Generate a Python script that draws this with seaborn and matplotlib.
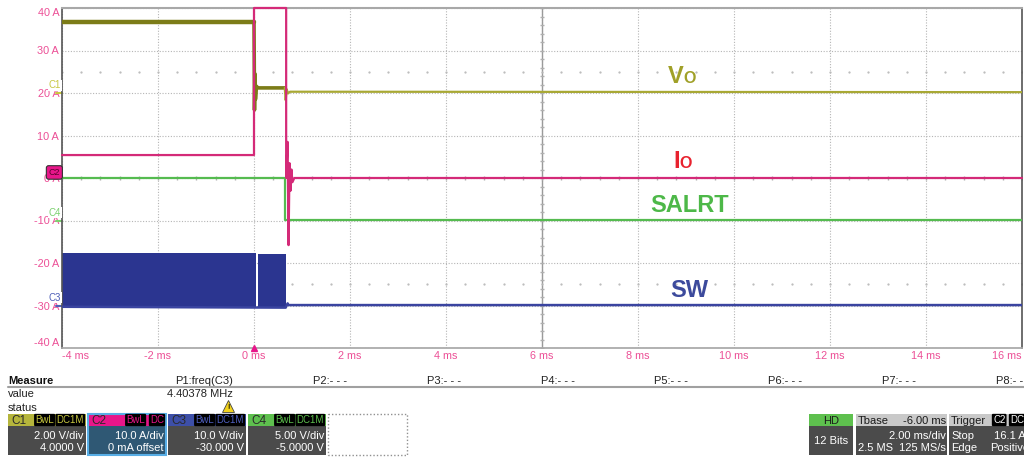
import numpy as np
import matplotlib
matplotlib.use("Agg")
import matplotlib.pyplot as plt
from matplotlib.patches import Rectangle
import seaborn as sns

sns.set_theme(style="white")
plt.rcParams['font.family'] = ['Liberation Sans', 'DejaVu Sans']

# -------------------------------
# Trace data (time in ms, value in screen units "A")
# -------------------------------
vo_pre_t = [-4.0, 0.0]
vo_pre_v = [36.8, 36.8]
vo_mid_t = [0.0, 0.005, 0.01, 0.02, 0.03, 0.05, 0.08, 0.64]
vo_mid_v = [36.8, 27.5, 16.0, 24.5, 18.5, 21.6, 21.2, 21.2]
vo_post_t = [0.64, 0.66, 0.68, 0.71, 0.75, 16.0]
vo_post_v = [21.2, 18.3, 20.9, 19.9, 20.3, 20.2]

io_t = [-4.0, 0.0, 0.0, 0.67, 0.67, 0.70, 0.72, 0.74, 0.76, 0.78, 0.80, 0.84, 16.0]
io_v = [5.4, 5.4, 40.0, 40.0, 0.0, 8.5, -15.8, 3.5, -3.0, 2.0, -1.0, 0.0, 0.0]

salrt_t = [-4.0, 0.65, 0.65, 16.0]
salrt_v = [0.0, 0.0, -9.9, -9.9]

sw_fill_t = [-4.0, 0.04, 0.04, 0.08, 0.08, 0.66, 0.66]
sw_fill_hi = [-17.6, -17.6, -30.3, -30.3, -17.8, -17.8, -30.3]
sw_fill_lo = -30.3
sw_t = [-4.0, 0.66, 0.70, 0.72, 16.0]
sw_v = [-30.3, -30.5, -29.5, -29.9, -29.9]

x_ticks = [-4, -2, 0, 2, 4, 6, 8, 10, 12, 14, 16]
y_ticks = [-40, -30, -20, -10, 0, 10, 20, 30, 40]

trace_labels = [("SALRT", 8.25, -8.0, "#4db848"), ("SW", 8.67, -28.0, "#3c4a9c")]

# channel panel: name, x, header colour, badge text colour, line1, line2
channels = [
    ("C1", 8, "#b5b53c", "#c8c840", "2.00 V/div", "4.0000 V"),
    ("C2", 88, "#e8168a", "#e8168a", "10.0 A/div", "0 mA offset"),
    ("C3", 168, "#3d4fa8", "#5060c0", "10.0 V/div", "-30.000 V"),
    ("C4", 248, "#5ec04e", "#5ec04e", "5.00 V/div", "-5.0000 V"),
]
p_labels = ["P2:- - -", "P3:- - -", "P4:- - -", "P5:- - -", "P6:- - -", "P7:- - -", "P8:- - -"]

PINK = "#ec4f96"

fig = plt.figure(figsize=(10.24, 4.58), dpi=100)

# overlay for the instrument panel, in pixel coordinates
ov = fig.add_axes([0, 0, 1, 1])
ov.set_xlim(0, 1024)
ov.set_ylim(458, 0)
ov.axis("off")

ax = fig.add_axes([62 / 1024, (458 - 348) / 458, 960 / 1024, 340 / 458])
ax.set_facecolor("white")

# grid
ax.set_xlim(-4, 16)
ax.set_ylim(-40, 40)
ax.set_xticks(x_ticks)
ax.set_yticks(y_ticks)
ax.grid(True, color="#b5b5b5", linestyle=(0, (1, 1.5)), lw=0.8)
ax.axvline(6, color="#9a9a9a", lw=1.0, zorder=1)
minor_x = np.arange(-4, 16.01, 0.4)
ax.plot(minor_x, np.zeros_like(minor_x), ls="none", marker="|", ms=2.5, color="#b0b0b0", zorder=1)
for row in (25, -25):
    ax.plot(minor_x, np.full_like(minor_x, row), ls="none", marker=".", ms=1.2, color="#b8b8b8", zorder=1)
minor_y = np.arange(-40, 40.01, 2)
ax.plot(np.full_like(minor_y, 6), minor_y, ls="none", marker="_", ms=2.5, color="#b0b0b0", zorder=1)

# traces
ax.fill_between(sw_fill_t, sw_fill_hi, sw_fill_lo, color="#2b3590", lw=0, zorder=2)
sns.lineplot(x=sw_t, y=sw_v, ax=ax, estimator=None, sort=False, color="#3a44a0", lw=1.8, zorder=3)
sns.lineplot(x=salrt_t, y=salrt_v, ax=ax, estimator=None, sort=False, color="#55bb50", lw=1.6, zorder=3)
sns.lineplot(x=vo_pre_t, y=vo_pre_v, ax=ax, estimator=None, sort=False, color="#7c7c18", lw=3.2, zorder=4)
sns.lineplot(x=vo_mid_t, y=vo_mid_v, ax=ax, estimator=None, sort=False, color="#7c7c18", lw=2.6, zorder=4)
sns.lineplot(x=vo_post_t, y=vo_post_v, ax=ax, estimator=None, sort=False, color="#a8a834", lw=1.6, zorder=4)
sns.lineplot(x=io_t, y=io_v, ax=ax, estimator=None, sort=False, color="#d42a78", lw=1.6, zorder=5)
ax.lines[-1].set_clip_on(False)

# trace labels
ax.text(8.63, 22.35, "V", color="#a0a028", fontsize=17, fontweight="bold", ha="left", va="baseline")
ax.text(8.94, 22.35, "O", color="#a0a028", fontsize=11.5, fontweight="bold", ha="left", va="baseline")
ax.text(8.73, 2.35, "I", color="#e8222e", fontsize=17, fontweight="bold", ha="left", va="baseline")
ax.text(8.87, 2.35, "O", color="#e8222e", fontsize=11.5, fontweight="bold", ha="left", va="baseline")
for txt, xx, yy, col in trace_labels:
    ax.text(xx, yy, txt, color=col, fontsize=17, fontweight="bold", ha="left", va="baseline")

# axes styling
for side in ("left", "right"):
    ax.spines[side].set_color("#555555")
    ax.spines[side].set_linewidth(1.2)
ax.spines["top"].set_color("#a8a8a8")
ax.spines["top"].set_linewidth(1.5)
ax.spines["bottom"].set_color("#a8a8a8")
ax.tick_params(axis="both", length=0, labelsize=7.8, colors=PINK, pad=2)
ax.set_xticklabels([f"{v} ms" for v in x_ticks])
ax.set_yticklabels([f"{v} A" for v in y_ticks])
xl = ax.get_xticklabels()
xl[0].set_ha("left")
xl[-1].set_ha("right")
yl = ax.get_yticklabels()
yl[0].set_va("bottom")
yl[-1].set_va("top")

# trigger marker and channel offset markers
ax.plot([0], [-40], marker="^", ms=5, color="#e8168a", clip_on=False, zorder=6)
for name, lvl, col in (("C1", 20, "#c8c840"), ("C4", -10, "#7cd070"), ("C3", -30, "#5060b8")):
    ax.plot([-4.12, -4.0], [lvl, lvl], color=col, lw=1.5, clip_on=False)
    ax.annotate(name, xy=(-4, lvl), xytext=(-5, 2), textcoords="offset points",
                fontsize=7, color=col, ha="center", va="bottom", annotation_clip=False,
                bbox=dict(boxstyle="square,pad=0.05", fc="white", ec="none"))
ax.annotate("C2", xy=(-4, 0), xytext=(-5.5, 4), textcoords="offset points", fontsize=6.5,
            color="#5a0030", ha="center", va="center", annotation_clip=False,
            bbox=dict(boxstyle="round,pad=0.25", fc="#e8168a", ec="#333333", lw=0.8))

# -------------------------------
# Measurement panel
# -------------------------------
FS = 8
ov.text(8, 381, "Measure", fontsize=FS, fontweight="bold", va="center", color="#111111")
ov.plot([8, 1024], [387, 387], color="#a0a0a0", lw=1.5)
ov.text(233, 381, "P1:freq(C3)", fontsize=FS, ha="right", va="center", color="#222222")
for i, lab in enumerate(p_labels):
    ov.text(313 + i * 113.8, 381, lab, fontsize=FS, ha="left", va="center", color="#222222")
ov.text(8, 394, "value", fontsize=FS, va="center", color="#222222")
ov.text(233, 394, "4.40378 MHz", fontsize=FS, ha="right", va="center", color="#222222")
ov.text(8, 408, "status", fontsize=FS, va="center", color="#222222")
ov.plot([228], [406], marker="^", ms=8, color="#f2d21c", mec="#444444", mew=0.6)
ov.text(228, 407.5, "!", fontsize=5, ha="center", va="center", color="black", fontweight="bold")

for name, x0, hcol, tcol, line1, line2 in channels:
    w = 78
    body = "#2f5874" if name == "C2" else "#4b4b4b"
    ov.add_patch(Rectangle((x0, 414), w, 12, fc=hcol, ec="none"))
    ov.add_patch(Rectangle((x0, 426), w, 29, fc=body, ec="none"))
    if name == "C2":
        ov.add_patch(Rectangle((x0, 414), w, 41, fc="none", ec="#58aee6", lw=1.5))
    ov.text(x0 + 3, 420.5, name, fontsize=8.5, color="#2a2a2a", va="center")
    if name == "C2":
        badges = [("BwL", x0 + w - 21), ("DC", x0 + w - 2)]
    else:
        badges = [("BwL", x0 + w - 32), ("DC1M", x0 + w - 2)]
    for b, bx in badges:
        ov.text(bx, 420, b, fontsize=7, color=tcol, ha="right", va="center",
                bbox=dict(boxstyle="round,pad=0.12", fc="black", ec="none"))
    ov.text(x0 + w - 2, 436, line1, fontsize=FS, color="white", ha="right", va="center")
    ov.text(x0 + w - 2, 448, line2, fontsize=FS, color="white", ha="right", va="center")

ov.add_patch(Rectangle((328, 414), 79, 41, fc="none", ec="#909090", lw=1.0, ls=(0, (1, 1.5))))

# HD box
ov.add_patch(Rectangle((809, 414), 44, 12, fc="#5ec04e", ec="none"))
ov.add_patch(Rectangle((809, 426), 44, 29, fc="#4b4b4b", ec="none"))
ov.text(831, 420.5, "HD", fontsize=FS, color="#1a1a1a", ha="center", va="center")
ov.text(831, 441, "12 Bits", fontsize=FS, color="white", ha="center", va="center")

# Tbase box
ov.add_patch(Rectangle((856, 414), 91, 12, fc="#c9c9c9", ec="none"))
ov.add_patch(Rectangle((856, 426), 91, 29, fc="#4b4b4b", ec="none"))
ov.text(858, 420.5, "Tbase", fontsize=FS, color="#1a1a1a", va="center")
ov.text(946, 420.5, "-6.00 ms", fontsize=FS, color="#1a1a1a", ha="right", va="center")
ov.text(946, 436, "2.00 ms/div", fontsize=FS, color="white", ha="right", va="center")
ov.text(858, 448, "2.5 MS", fontsize=FS, color="white", va="center")
ov.text(946, 448, "125 MS/s", fontsize=FS, color="white", ha="right", va="center")

# Trigger box
ov.add_patch(Rectangle((949, 414), 80, 12, fc="#c9c9c9", ec="none"))
ov.add_patch(Rectangle((949, 426), 80, 29, fc="#4b4b4b", ec="none"))
ov.text(951, 420.5, "Trigger", fontsize=FS, color="#1a1a1a", va="center")
ov.text(993, 420, "C2", fontsize=7, color="white", va="center",
        bbox=dict(boxstyle="round,pad=0.12", fc="black", ec="none"))
ov.text(1010, 420, "DC", fontsize=7, color="white", va="center",
        bbox=dict(boxstyle="round,pad=0.12", fc="black", ec="none"))
ov.text(951, 436, "Stop", fontsize=FS, color="white", va="center")
ov.text(1026, 436, "16.1 A", fontsize=FS, color="white", ha="right", va="center")
ov.text(951, 448, "Edge", fontsize=FS, color="white", va="center")
ov.text(1029, 448, "Positive", fontsize=FS, color="white", ha="right", va="center")

fig.savefig("out.png", dpi=100)
